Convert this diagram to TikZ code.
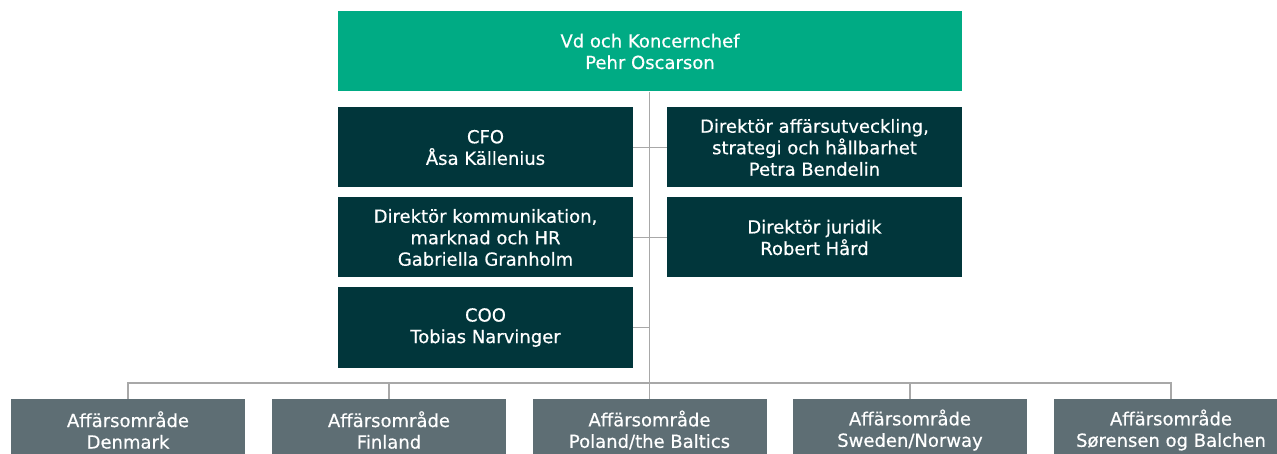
\documentclass[tikz,border=0pt]{standalone}
\usepackage{fontspec}
\setmainfont{DejaVu Sans}
\newfontfamily\orgfont{DejaVu Sans}[FakeBold=0.5]
\usepackage{tikz}
\usetikzlibrary{calc}

\definecolor{ceogreen}{HTML}{00AB84}
\definecolor{staffdark}{HTML}{01363B}
\definecolor{areagray}{HTML}{5E6E74}
\definecolor{linegray}{HTML}{A8A8A8}

\tikzset{
	orgbox/.style={inner sep=0pt, align=center, text=white, font=\orgfont\fontsize{18}{21.5}\selectfont},
	ceobox/.style={orgbox, fill=ceogreen, minimum width=624pt, minimum height=80pt},
	staffbox/.style={orgbox, fill=staffdark, minimum width=295pt, minimum height=80pt},
	areabox/.style={orgbox, fill=areagray, minimum width=234pt, minimum height=62pt},
	link/.style={draw=linegray, line width=1.4pt}
}

\begin{document}
\begin{tikzpicture}[x=1pt, y=-1pt]
			%%%%% START %%%%%
			\useasboundingbox (0, 0) rectangle (1277, 454);
			
			\node[ceobox] (ceo) at (650, 51.5) {Vd och Koncernchef\\Pehr Oscarson};
			
			\node[staffbox] (cfo) at (485.5, 147.5) {CFO\\Åsa Källenius};
			\node[staffbox] (comm) at (485.5, 237.5) {Direktör kommunikation,\\marknad och HR\\Gabriella Granholm};
			\node[staffbox] (coo) at (485.5, 327.5) {COO\\Tobias Narvinger};
			\node[staffbox] (strat) at (814.5, 147.5) {Direktör affärsutveckling,\\strategi och hållbarhet\\Petra Bendelin};
			\node[staffbox] (legal) at (814.5, 237.5) {Direktör juridik\\Robert Hård};
			
			\node[areabox] (dk) at (128, 430) {Affärsområde\\Denmark};
			\node[areabox] (fi) at (389, 430) {Affärsområde\\Finland};
			\node[areabox] (pl) at (649.5, 430) {Affärsområde\\Poland/the Baltics};
			\node[areabox] (se) at (910, 430) {Affärsområde\\Sweden/Norway};
			\node[areabox] (so) at (1171, 430) {Affärsområde\\Sørensen og Balchen};
			
			% staff lines
			\draw[link] (ceo.south -| pl.north) -- (pl.north);
			\draw[link] (cfo.east) -- (strat.west);
			\draw[link] (comm.east) -- (legal.west);
			\draw[link] (coo.east) -- (coo.east -| pl.north);
			
			% business areas
			\draw[link] (dk.north) -- ++(0, -16) -| (so.north);
			\draw[link] (fi.north) -- ++(0, -16);
			\draw[link] (se.north) -- ++(0, -16);
			
			%%%%% END %%%%%
\end{tikzpicture}
\end{document}
